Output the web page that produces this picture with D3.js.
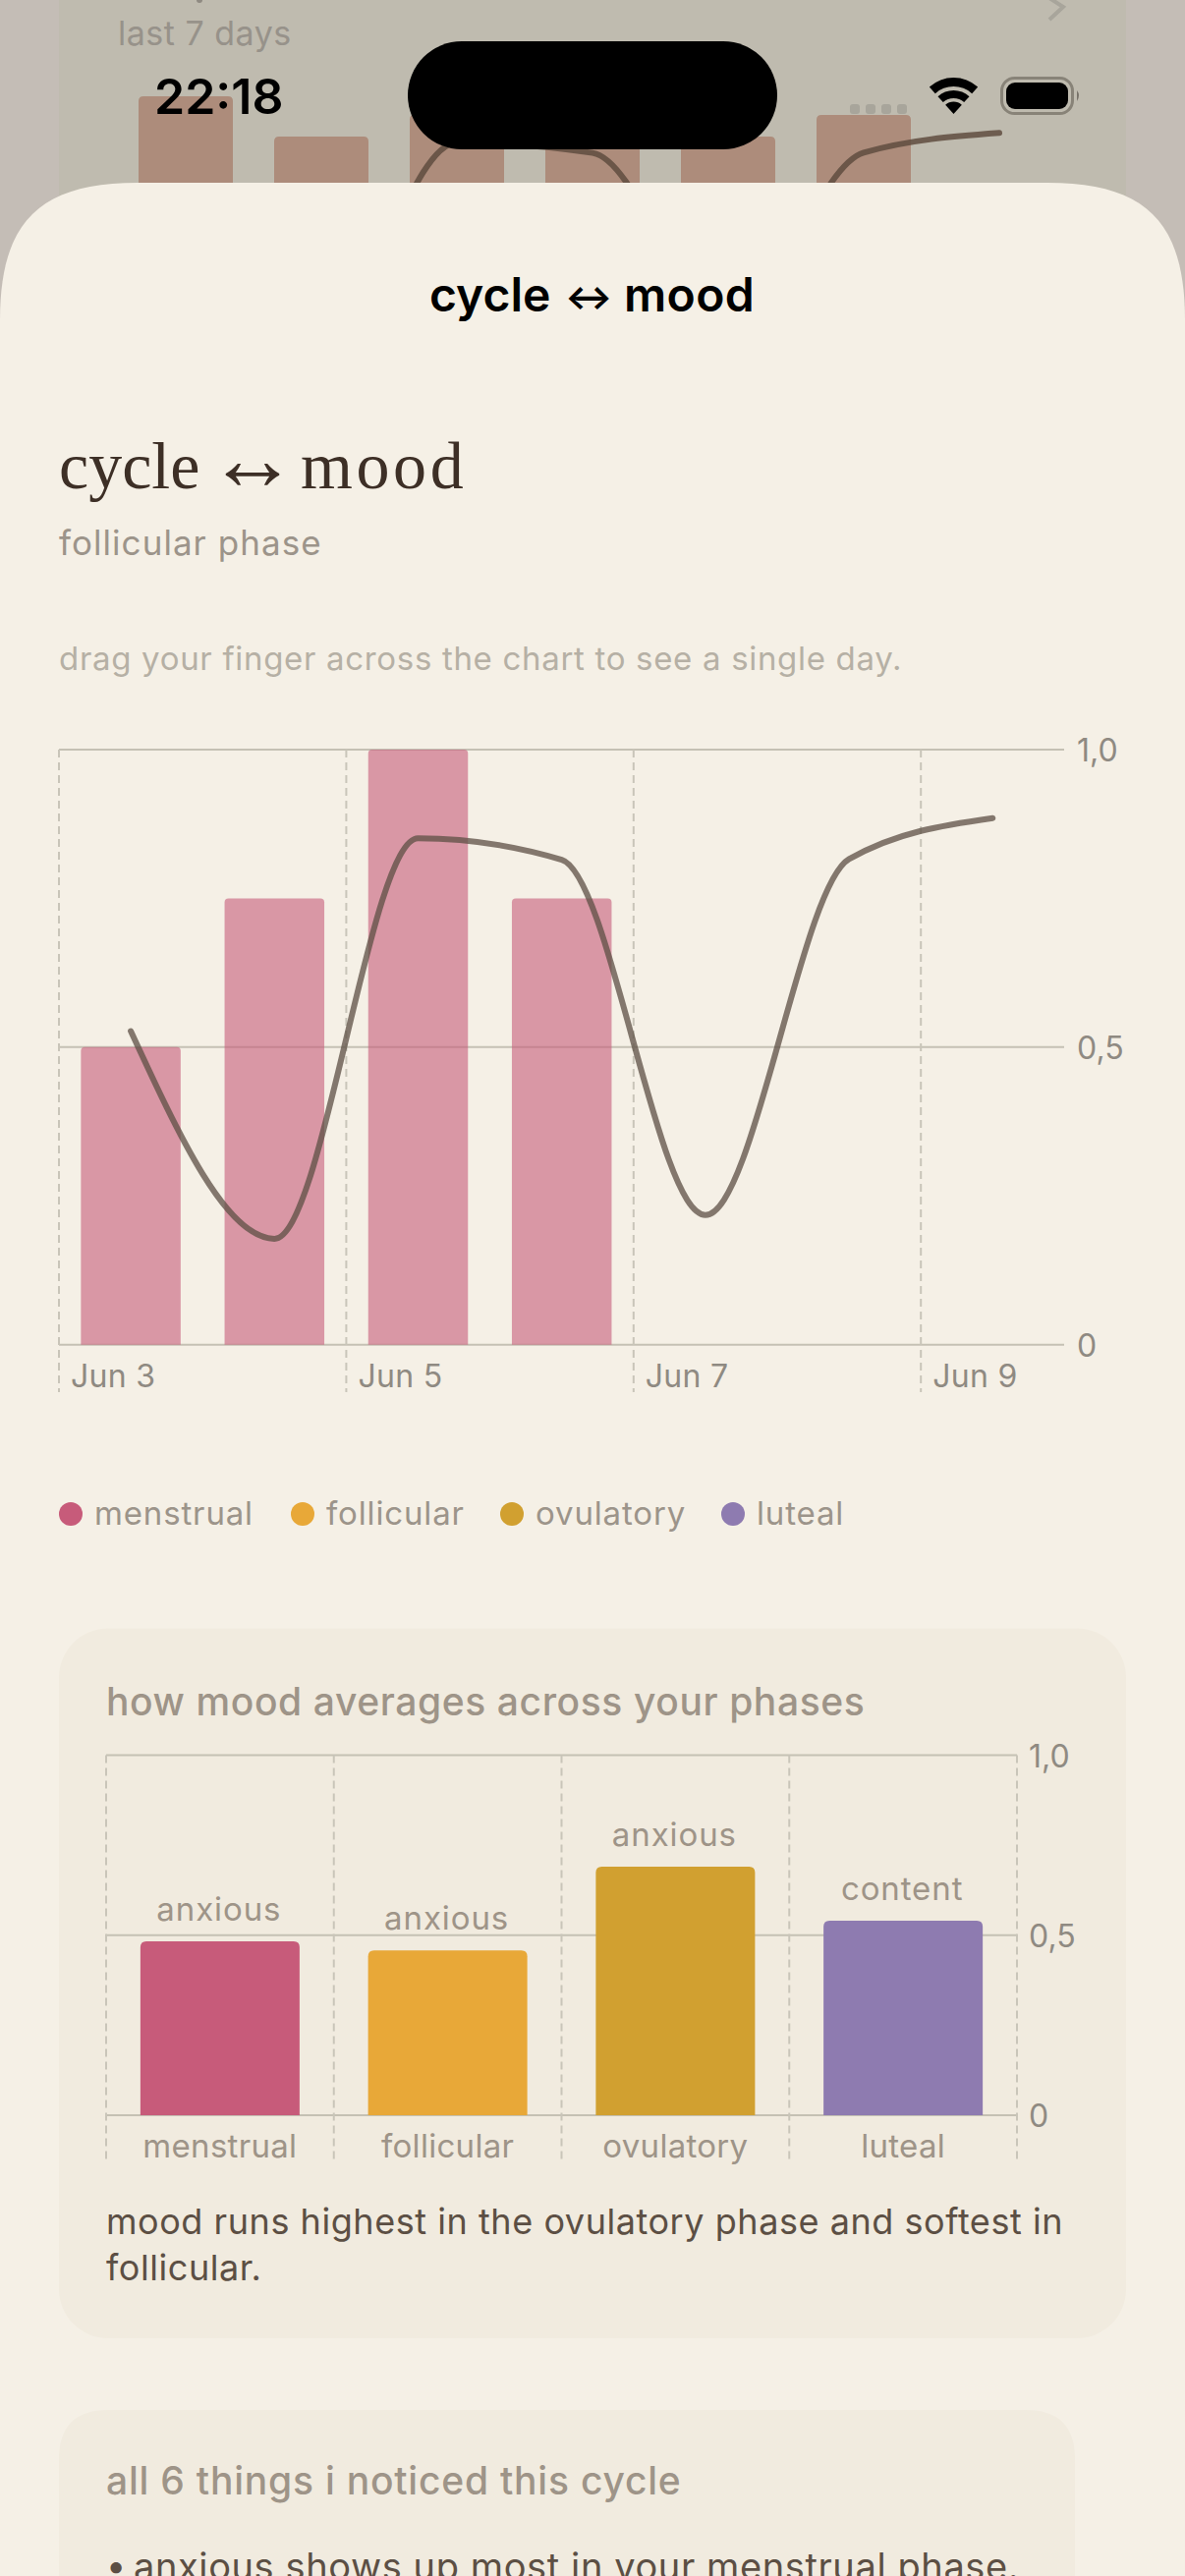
<!DOCTYPE html>
<html><head><meta charset="utf-8">
<script src="https://cdn.jsdelivr.net/npm/d3@7"></script>
<style>html,body{margin:0;padding:0;background:#f5f0e6}svg{display:block}text{font-family:Inter,"Noto Sans",sans-serif}</style>
</head><body><div id="c"></div>
<script>
const dayLabels=["Jun 3","Jun 4","Jun 5","Jun 6","Jun 7","Jun 8","Jun 9"];
const barValues=[0.5,0.75,1,0.75,null,null,null];
const moodValues=[0.527,0.178,0.851,0.815,0.218,0.816,0.885];
const dayTicks=["Jun 3","Jun 5","Jun 7","Jun 9"];
const yTicks=[0,0.5,1];
const backBarValues=[1.014,0.872,0.95,0.872,0.872,0.948,null];
const phases=["menstrual","follicular","ovulatory","luteal"];
const phaseValues=[0.483,0.458,0.69,0.54];
const phaseMoods=["anxious","anxious","anxious","content"];
const phaseColors=["#c75b7a","#e8a838","#d1a030","#8e7bb0"];
const legendX=[72,308,521,746];
const W=1206,H=2622;
const svg=d3.select("#c").append("svg").attr("width",W).attr("height",H).attr("viewBox",`0 0 ${W} ${H}`);
const fmt=v=>v===0?"0":d3.format(".1f")(v).replace(".",",");
function topRound(x,y,w,h,r){return `M${x},${y+h}V${y+r}Q${x},${y} ${x+r},${y}H${x+w-r}Q${x+w},${y} ${x+w},${y+r}V${y+h}Z`;}
const txt=(g,s,x,y,size,fill,opts={})=>g.append("text").text(s).attr("x",x).attr("y",y).attr("font-size",size).attr("fill",fill)
  .attr("font-weight",opts.w||400).attr("text-anchor",opts.a||"start").attr("letter-spacing",opts.ls||null).style("font-family",opts.f||null);

/* dimmed screen behind the sheet */
const back=svg.append("g");
back.append("rect").attr("width",W).attr("height",400).attr("fill","#c4bdb6");
back.append("rect").attr("x",60).attr("width",1086).attr("height",400).attr("fill","#bfbbaf");
txt(back,"last 7 days",120,46,34,"#97928a",{ls:0.5});
back.append("path").attr("d","M1068,-2L1082,7L1068,20").attr("fill","none").attr("stroke","#a8a59b").attr("stroke-width",4);
back.append("circle").attr("cx",203).attr("cy",0).attr("r",3).attr("fill","#8f8a82");
const bx2=d3.scalePoint().domain(dayLabels).range([189,1017]);
const by=d3.scaleLinear().domain([0,1]).range([392,102]);
back.selectAll("path.bb").data(dayLabels.map((d,i)=>({d,v:backBarValues[i]})).filter(d=>d.v!=null)).join("path").attr("class","bb")
 .attr("fill","#ad8c7b").attr("d",d=>topRound(bx2(d.d)-48,by(d.v),96,400-by(d.v),5));
back.append("path").attr("fill","none").attr("stroke","#5f4c40").attr("stroke-opacity",.85).attr("stroke-width",6).attr("stroke-linecap","round")
 .attr("d",d3.line().x((d,i)=>bx2(dayLabels[i])).y(d=>by(d)).curve(d3.curveMonotoneX)(moodValues));

/* sheet */
const sr=130,st=186;
svg.append("path").attr("fill","#f5f0e6").attr("d",`M0,${H}V${st+sr+10}C0,${st+40} 40,${st} ${sr+10},${st}H${W-sr-10}C${W-40},${st} ${W},${st+40} ${W},${st+sr+10}V${H}Z`);

/* status bar */
const st2=svg.append("g");
txt(st2,"22:18",157,116,50,"#000",{w:600});
st2.append("rect").attr("x",415).attr("y",42).attr("width",376).attr("height",110).attr("rx",55).attr("fill","#000");
st2.selectAll("rect.dot").data([870,886,902,918]).join("rect").attr("class","dot").attr("x",d=>d-5).attr("y",106).attr("width",10).attr("height",10).attr("rx",3).attr("fill","#a8a59b");
[[28,37],[16,24],[0,12.5]].forEach(([r0,r1])=>{
  const arc=d3.arc().innerRadius(r0).outerRadius(r1).startAngle(-Math.PI/4.3).endAngle(Math.PI/4.3);
  st2.append("path").attr("transform","translate(970.5,116)").attr("d",arc()).attr("fill","#000");
});
st2.append("rect").attr("x",1019.5).attr("y",79.5).attr("width",72).attr("height",36).attr("rx",13).attr("fill","none").attr("stroke","#888378").attr("stroke-width",3);
st2.append("rect").attr("x",1024).attr("y",84).attr("width",63).attr("height",27).attr("rx",9).attr("fill","#000");
st2.append("path").attr("d","M1096,92Q1100,97 1096,103Z").attr("fill","#777269");

/* titles */
const nav=svg.append("text").attr("font-weight",600).attr("fill","#000").attr("font-size",48);
nav.append("tspan").text("cycle").attr("x",437).attr("y",317);
nav.append("tspan").text("↔").attr("x",575).attr("y",315).attr("font-size",36).attr("font-weight",700);
nav.append("tspan").text("mood").attr("x",635).attr("y",317).attr("letter-spacing",.4);
const head=svg.append("text").attr("fill","#3d2f26").attr("font-size",68).style("font-family",'"Liberation Serif",serif');
head.append("tspan").text("cycle").attr("x",60).attr("y",497);
head.append("tspan").text("↔").attr("x",211).attr("y",498).attr("font-size",92);
head.append("tspan").text("mood").attr("x",306).attr("y",497).attr("letter-spacing",3.6);
txt(svg,"follicular phase",60,565,35,"#9c948a",{ls:1.05});
txt(svg,"drag your finger across the chart to see a single day.",60,682,33,"#b6b0a5",{ls:.68});

/* main chart */
const x=d3.scaleBand().domain(dayLabels).range([60,1083.4]);
const y=d3.scaleLinear().domain([0,1]).range([1368.7,763]);
const main=svg.append("g");
const axisY=d3.axisRight(y).tickValues(yTicks).tickSize(0).tickPadding(13).tickFormat(fmt);
const gy=main.append("g").attr("transform","translate(1083,1.5)").call(axisY);
gy.select(".domain").remove();
gy.selectAll("text").attr("font-size",32).attr("fill","#8f8a82").style("font-family","Inter");
main.selectAll("line.h").data(yTicks).join("line").attr("class","h").attr("x1",60).attr("x2",1083).attr("y1",d=>y(d)).attr("y2",d=>y(d)).attr("stroke","#c5c1b4").attr("stroke-width",2);
main.selectAll("line.v").data(dayTicks).join("line").attr("class","v").attr("x1",d=>x(d)).attr("x2",d=>x(d)).attr("y1",763).attr("y2",1417).attr("stroke","#c9c5b9").attr("stroke-width",2).attr("stroke-dasharray","8 5");
main.selectAll("text.xl").data(dayTicks).join("text").attr("class","xl").text(d=>d).attr("x",d=>x(d)+12).attr("y",1412).attr("font-size",32).attr("letter-spacing",.3).attr("fill","#8f8a82");
const bw=101.5;
main.selectAll("path.b").data(dayLabels.map((d,i)=>({d,v:barValues[i]})).filter(d=>d.v!=null)).join("path").attr("class","b")
 .attr("fill","#c75b7a").attr("fill-opacity",.6).attr("d",d=>topRound(x(d.d)+x.bandwidth()/2-bw/2,y(d.v),bw,y(0)-y(d.v),4));
main.append("path").attr("fill","none").attr("stroke","#5c4f44").attr("stroke-opacity",.75).attr("stroke-width",6).attr("stroke-linecap","round")
 .attr("d",d3.line().x((d,i)=>x(dayLabels[i])+x.bandwidth()/2).y(d=>y(d)).curve(d3.curveMonotoneX)(moodValues));

/* legend */
const leg=svg.selectAll("g.leg").data(phases).join("g").attr("class","leg");
leg.append("circle").attr("cx",(d,i)=>legendX[i]).attr("cy",1541).attr("r",12).attr("fill",(d,i)=>phaseColors[i]);
leg.append("text").text(d=>d).attr("x",(d,i)=>legendX[i]+24).attr("y",1552).attr("font-size",33).attr("fill","#9c948a").attr("letter-spacing",.85);

/* card 2 */
svg.append("rect").attr("x",60).attr("y",1657.5).attr("width",1086).attr("height",722.5).attr("rx",50).attr("fill","#f1ebdf");
txt(svg,"how mood averages across your phases",108,1746,39,"#9e9488",{w:500,ls:.6});
const px=d3.scaleBand().domain(phases).range([108,1035]);
const py=d3.scaleLinear().domain([0,1]).range([2153,1786.5]);
const c2=svg.append("g");
const gy2=c2.append("g").attr("transform","translate(1035,1.5)").call(d3.axisRight(py).tickValues(yTicks).tickSize(0).tickPadding(12).tickFormat(fmt));
gy2.select(".domain").remove();
gy2.selectAll("text").attr("font-size",32).attr("fill","#8f8a82").style("font-family","Inter");
c2.selectAll("line.h").data(yTicks).join("line").attr("x1",108).attr("x2",1035).attr("y1",d=>py(d)).attr("y2",d=>py(d)).attr("stroke","#c5c1b4").attr("stroke-width",2);
const ends=phases.map(d=>px(d)).concat([1035]);
c2.selectAll("line.v").data(ends).join("line").attr("class","v").attr("x1",d=>d).attr("x2",d=>d).attr("y1",1786.5).attr("y2",2200).attr("stroke","#c9c5b9").attr("stroke-width",2).attr("stroke-dasharray","8 5");
const pw=162;
c2.selectAll("path.pb").data(phases).join("path").attr("class","pb").attr("fill",(d,i)=>phaseColors[i])
 .attr("d",(d,i)=>topRound(px(d)+px.bandwidth()/2-pw/2,py(phaseValues[i]),pw,py(0)-py(phaseValues[i]),6));
c2.selectAll("text.ml").data(phases).join("text").attr("class","ml").text((d,i)=>phaseMoods[i]).attr("x",d=>px(d)+px.bandwidth()/2-1).attr("y",(d,i)=>py(phaseValues[i])-21).attr("text-anchor","middle").attr("font-size",33).attr("letter-spacing",.9).attr("fill","#9e9488");
c2.selectAll("text.cl").data(phases).join("text").attr("class","cl").text(d=>d).attr("x",d=>px(d)+px.bandwidth()/2).attr("y",2196).attr("text-anchor","middle").attr("font-size",33).attr("letter-spacing",.3).attr("fill","#9e9488");
txt(svg,"mood runs highest in the ovulatory phase and softest in",108,2274,36,"#5c4f44",{ls:.55});
txt(svg,"follicular.",108,2321,36,"#5c4f44",{ls:.55});

/* card 3 */
svg.append("path").attr("fill","#f1ebdf").attr("d",`M60,${H}V2503Q60,2453 110,2453H1044Q1094,2453 1094,2503V${H}Z`);
txt(svg,"all 6 things i noticed this cycle",108,2539,39,"#9e9488",{w:500,ls:.78});
txt(svg,"•",108,2624,36,"#5c4f44");
txt(svg,"anxious shows up most in your menstrual phase.",136,2626,38,"#5c4f44",{ls:.6});
</script></body></html>
